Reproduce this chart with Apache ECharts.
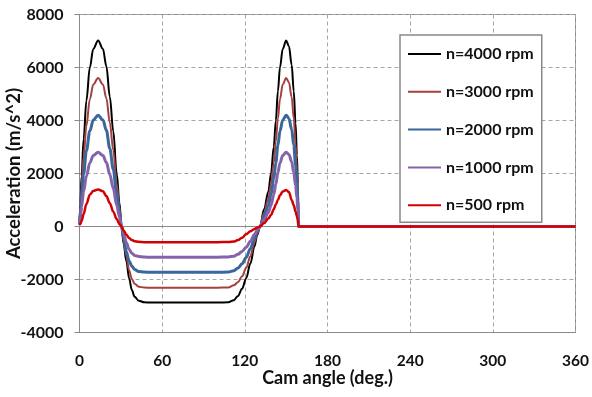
<!DOCTYPE html>
<html>
<head>
<meta charset="utf-8">
<script src="https://cdn.jsdelivr.net/npm/echarts@6/dist/echarts.min.js"></script>
<style>
  html, body { margin: 0; padding: 0; background: #fff; }
  #chart { width: 592px; height: 397px; }
</style>
</head>
<body>
<div id="chart"></div>
<script>
// Cam angle samples (deg.)
const angles = [0, 0.7, 1.5, 3, 5, 7.5, 10, 13.5, 17, 19.5, 22, 24.5, 27, 29, 30.5,
  32, 34, 36, 38, 40, 43, 47, 52, 60, 70, 80, 90, 100, 108, 112, 115, 118, 121, 124,
  127, 129, 131, 134, 137, 139, 141, 142.5, 144, 145.5, 147.5, 150, 152, 154, 155.5,
  156.8, 157.8, 158.5, 159, 200, 250, 300, 360];

// Follower acceleration (m/s^2) at each angle
const acc4000 = [150, 900, 1900, 3300, 4750, 6000, 6700, 7020, 6700, 6050, 4900, 3600, 2000, 900, 0,
  -650, -1300, -1950, -2400, -2650, -2800, -2860, -2870, -2870, -2870, -2870, -2870, -2870, -2860, -2780, -2620, -2350, -1950, -1400,
  -750, -320, 0, 650, 1300, 2000, 3000, 4000, 5100, 6000, 6700, 7020, 6800, 6100, 5100,
  3900, 2700, 1600, 0, 0, 0, 0, 0];
const acc3000 = [120, 720, 1520, 2640, 3800, 4800, 5360, 5600, 5360, 4840, 3920, 2880, 1600, 720, 0,
  -540, -1100, -1650, -1980, -2160, -2270, -2305, -2310, -2310, -2310, -2310, -2310, -2310, -2300, -2220, -2100, -1880, -1560, -1120,
  -600, -260, 0, 520, 1040, 1600, 2400, 3200, 4080, 4800, 5360, 5600, 5440, 4880, 4080,
  3120, 2160, 1280, 0, 0, 0, 0, 0];
const acc2000 = [90, 540, 1140, 1980, 2850, 3600, 4020, 4200, 4020, 3630, 2940, 2160, 1200, 540, 0,
  -420, -950, -1300, -1500, -1620, -1695, -1720, -1730, -1730, -1730, -1730, -1730, -1730, -1720, -1670, -1570, -1410, -1170, -840,
  -450, -190, 0, 390, 780, 1200, 1800, 2400, 3060, 3600, 4020, 4200, 4080, 3660, 3060,
  2340, 1620, 960, 0, 0, 0, 0, 0];
const acc1000 = [60, 360, 760, 1320, 1900, 2400, 2680, 2800, 2680, 2420, 1960, 1440, 800, 360, 0,
  -280, -600, -860, -1010, -1090, -1135, -1155, -1160, -1160, -1160, -1160, -1160, -1160, -1150, -1120, -1050, -940, -780, -560,
  -300, -130, 0, 260, 520, 800, 1200, 1600, 2040, 2400, 2680, 2800, 2720, 2440, 2040,
  1560, 1080, 640, 0, 0, 0, 0, 0];
const acc500 = [60, 100, 200, 470, 850, 1200, 1340, 1400, 1330, 1150, 880, 560, 280, 90, 0,
  -150, -310, -430, -510, -555, -580, -590, -590, -590, -590, -590, -590, -590, -585, -570, -510, -420, -290, -180,
  -90, -40, 0, 130, 300, 430, 650, 830, 1000, 1180, 1320, 1380, 1300, 1000, 800,
  560, 380, 250, 0, 0, 0, 0, 0];

const seriesNames = ['n=4000 rpm', 'n=3000 rpm', 'n=2000 rpm', 'n=1000 rpm', 'n=500 rpm'];
const seriesValues = [acc4000, acc3000, acc2000, acc1000, acc500];
const seriesColors = ['#000000', '#a4403f', '#38679c', '#8463ab', '#d20000'];
const seriesWidths = [2, 2, 3, 3, 2.5];

const xTicks = { min: 0, max: 360, step: 60 };
const yTicks = { min: -4000, max: 8000, step: 2000 };

const FONT = 'Lato';
const gridColor = '#a6a6a6';
const frameColor = '#898989';

const chart = echarts.init(document.getElementById('chart'), null, { renderer: 'canvas' });

const series = seriesNames.map((name, i) => ({
  name,
  type: 'line',
  data: angles.map((a, j) => [a, seriesValues[i][j]]),
  symbol: 'none',
  smooth: 0.35,
  smoothMonotone: 'x',
  lineStyle: { color: seriesColors[i], width: seriesWidths[i] },
  itemStyle: { color: seriesColors[i] },
  animation: false,
  z: 2 + i,
  markLine: i === 0 ? {
    silent: true,
    symbol: 'none',
    label: { show: false },
    lineStyle: { color: frameColor, width: 1, type: 'solid' },
    data: [{ yAxis: 0 }],
    animation: false
  } : undefined
}));

chart.setOption({
  backgroundColor: '#ffffff',
  animation: false,
  grid: {
    left: 79.5, right: 16.5, top: 14.5, bottom: 64.5,
    containLabel: false, outerBoundsMode: 'none',
    show: true, borderColor: frameColor, borderWidth: 1, backgroundColor: 'transparent'
  },
  legend: {
    orient: 'vertical',
    left: 400, top: 35,
    padding: [11, 8, 9, 7],
    itemWidth: 33, itemHeight: 14, itemGap: 21.8,
    borderColor: frameColor, borderWidth: 1.5,
    backgroundColor: '#ffffff',
    itemStyle: { opacity: 0, borderWidth: 0 },
    textStyle: { fontFamily: FONT, fontWeight: 'bold', fontSize: 16, color: '#111' },
    data: seriesNames
  },
  xAxis: {
    type: 'value',
    min: xTicks.min, max: xTicks.max, interval: xTicks.step,
    name: 'Cam angle (deg.)',
    nameLocation: 'middle', nameGap: 37, nameMoveOverlap: false,
    nameTextStyle: { fontFamily: FONT, fontWeight: 'bold', fontSize: 18, color: '#111' },
    axisLine: { onZero: false, lineStyle: { color: frameColor, width: 1 } },
    axisTick: { show: false },
    axisLabel: { fontFamily: FONT, fontWeight: 'bold', fontSize: 15.5, color: '#111', margin: 20 },
    splitLine: { show: true, lineStyle: { color: gridColor, type: [4, 3], width: 1 } }
  },
  yAxis: {
    type: 'value',
    min: yTicks.min, max: yTicks.max, interval: yTicks.step,
    name: 'Acceleration (m/s^2)',
    nameLocation: 'middle', nameGap: 56, nameRotate: 90, nameMoveOverlap: false,
    nameTextStyle: { fontFamily: FONT, fontWeight: 'bold', fontSize: 18.5, color: '#111' },
    axisLine: { show: true, lineStyle: { color: frameColor, width: 1 } },
    axisTick: { show: true, inside: false, length: 5, lineStyle: { color: frameColor } },
    axisLabel: {
      fontFamily: FONT, fontWeight: 'bold', fontSize: 16, color: '#111', margin: 16,
      formatter: (v) => String(v)
    },
    splitLine: { show: true, lineStyle: { color: gridColor, type: [4, 3], width: 1 } }
  },
  series
});
</script>
</body>
</html>
